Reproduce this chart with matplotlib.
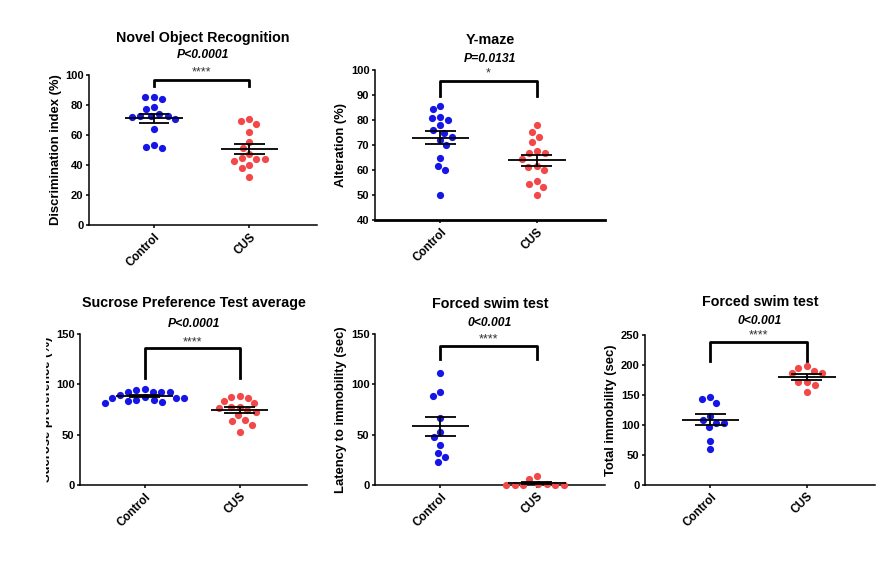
import numpy as np
import matplotlib
matplotlib.use('Agg')
import matplotlib.pyplot as plt
from matplotlib.transforms import Bbox

plt.rcParams['font.family'] = ['Liberation Sans', 'DejaVu Sans']

groups = ['Control', 'CUS']
blue = '#1515E6'
red = '#F24848'

# Novel object recognition - discrimination index (%)
nor_control = [85.3, 84.0, 85.1, 78.4, 77.1, 72.9, 72.2, 72.7, 72.7, 74.0, 70.7, 63.8, 53.3, 51.1, 51.8]
nor_cus = [70.5, 67.5, 69.3, 61.7, 55.2, 51.6, 47.5, 44.2, 42.7, 40.0, 37.7, 43.8, 44.5, 32.2]

# Y-maze - alteration (%)
ymaze_control = [85.7, 84.4, 80.8, 81.3, 80.0, 77.9, 76.1, 74.9, 73.3, 72.1, 70.0, 64.7, 61.5, 60.0, 49.9]
ymaze_cus = [77.9, 75.1, 73.1, 71.3, 67.7, 66.7, 66.7, 64.4, 61.5, 60.0, 61.1, 55.5, 53.3, 54.3, 49.9]

# Sucrose preference (%)
spt_control = [95.7, 94.4, 92.7, 92.7, 92.7, 92.7, 89.7, 87.0, 86.7, 86.7, 86.4, 84.7, 84.4, 83.7, 82.7, 81.8]
spt_cus = [87.7, 86.7, 88.4, 81.1, 83.4, 77.2, 77.8, 76.2, 72.8, 74.5, 69.5, 64.6, 63.6, 59.6, 52.9]

# Forced swim test - latency to immobility (sec)
lat_control = [110.9, 92.0, 88.0, 66.2, 52.9, 47.7, 40.0, 32.0, 28.1, 23.1]
lat_cus = [9.3, 0.5, 0.0, 0.0, 0.0, 0.0, 0.0, 1.0, 6.3]

# Forced swim test - total immobility (sec)
imm_control = [147.2, 143.9, 136.1, 115.0, 107.8, 103.9, 103.9, 96.1, 73.9, 59.4]
imm_cus = [198.0, 195.6, 190.6, 186.0, 186.0, 172.0, 172.0, 166.7, 155.6]


def swarm_x(ax, center, vals, d=8.5):
    # simple beeswarm in pixel space, points kept at least d px apart
    pts = ax.transData.transform(np.column_stack([np.full(len(vals), center), vals]))
    ypx = pts[:, 1]
    unit = ax.transData.transform((1, 0))[0] - ax.transData.transform((0, 0))[0]
    placed = []
    xs = np.zeros(len(vals))
    for i in np.argsort(-ypx, kind='stable'):
        y = ypx[i]
        cands = [0.0]
        for px, py in placed:
            dy = abs(py - y)
            if dy < d:
                dx = np.sqrt(d * d - dy * dy)
                cands += [px + dx, px - dx]
        cands.sort(key=lambda c: (abs(c), c))
        for c in cands:
            if all((c - px) ** 2 + (y - py) ** 2 >= d * d - 1e-6 for px, py in placed):
                break
        placed.append((c, y))
        xs[i] = c
    return center + xs / unit


def panel(rect, ctrl, cus, title, ptext, stars, ylabel, ylim, ystep,
          bracket, star_y, title_y, p_y):
    ax = fig.add_axes(rect)
    ax.set_xlim(-0.68, 1.71)
    ax.set_ylim(*ylim)

    for i, (d, col) in enumerate(zip([ctrl, cus], [blue, red])):
        ax.scatter(swarm_x(ax, i, d), d, s=27, color=col, linewidths=0,
                   clip_on=False, zorder=3)

    # mean +/- SEM
    for i, d in enumerate([ctrl, cus]):
        m = np.mean(d)
        se = np.std(d, ddof=1) / np.sqrt(len(d))
        ax.hlines(m, i - 0.3, i + 0.3, color='black', lw=1.3, zorder=4)
        ax.hlines([m - se, m + se], i - 0.16, i + 0.16, color='black', lw=1.3, zorder=4)
        ax.vlines(i, m - se, m + se, color='black', lw=1.3, zorder=4)

    # significance bracket
    leg, top = bracket
    ax.plot([0, 0, 1, 1], [leg, top, top, leg], color='black', lw=2, clip_on=False)
    ax.text(0.5, star_y, stars, ha='center', va='center', fontsize=9, color='#333333')

    ax.text(0.5, title_y, title, transform=ax.transAxes, ha='center', va='center',
            fontsize=10.3, fontweight='bold')
    ax.text(0.5, p_y, ptext, transform=ax.transAxes, ha='center', va='center',
            fontsize=8.7, fontweight='bold', fontstyle='italic')

    ax.set_yticks(np.arange(ylim[0], ylim[1] + 1, ystep))
    ax.set_xticks([0, 1])
    ax.set_xticklabels(groups, rotation=45, ha='right', rotation_mode='anchor',
                       fontsize=8.5, fontweight='bold')
    plt.setp(ax.get_yticklabels(), fontsize=8, fontweight='bold')
    ax.tick_params(direction='out', length=2.5, width=1.1, pad=1.5)
    ax.set_ylabel(ylabel, fontsize=9.4, fontweight='bold')
    ax.yaxis.set_label_coords(-0.12, 0.5)
    for s in ['top', 'right']:
        ax.spines[s].set_visible(False)
    for s in ['left', 'bottom']:
        ax.spines[s].set_linewidth(1.1)
    return ax


fig = plt.figure(figsize=(8.86, 5.61), dpi=100)

ax1 = panel([0.1005, 0.5989, 0.2573, 0.2674], nor_control, nor_cus,
            'Novel Object Recognition', 'P<0.0001', '****', 'Discrimination index (%)',
            (0, 100), 20, (92.7, 97), 102, 1.25, 1.135)

ax2 = panel([0.4233, 0.6078, 0.2596, 0.2674], ymaze_control, ymaze_cus,
            'Y-maze', 'P=0.0131', '*', 'Alteration (%)',
            (40, 100), 10, (89.7, 95.7), 98.6, 1.2, 1.075)
ax2.spines['bottom'].set_linewidth(2)

ax3 = panel([0.0903, 0.1355, 0.2562, 0.2692], spt_control, spt_cus,
            'Sucrose Preference Test average', 'P<0.0001', '****', 'Sucrose preference (%)',
            (0, 150), 50, (106, 135.8), 142, 1.203, 1.068)
# the label of this panel is cut off on its left side in the original
ax3.yaxis.label.set_clip_on(True)
ax3.yaxis.label.set_clip_box(Bbox([[46, 0], [886, 561]]))

ax4 = panel([0.4233, 0.1355, 0.2596, 0.2692], lat_control, lat_cus,
            'Forced swim test', '0<0.001', '****', 'Latency to immobility (sec)',
            (0, 150), 50, (125, 138), 145, 1.2, 1.07)

ax5 = panel([0.728, 0.1355, 0.2596, 0.2674], imm_control, imm_cus,
            'Forced swim test', '0<0.001', '****', 'Total immobility (sec)',
            (0, 250), 50, (206.7, 238.8), 250, 1.222, 1.095)

fig.savefig('out.png', dpi=100)
